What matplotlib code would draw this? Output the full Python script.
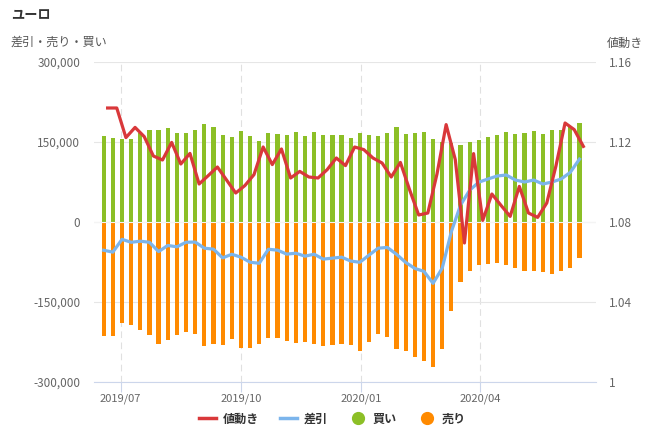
import matplotlib
matplotlib.use('Agg')
import matplotlib.pyplot as plt
import matplotlib.dates as mdates
from matplotlib.ticker import FuncFormatter, FixedLocator
from matplotlib.lines import Line2D
import numpy as np
import pandas as pd

plt.rcParams['font.family'] = ['Noto Sans CJK JP', 'DejaVu Sans']

# weekly report dates (Tuesdays)
report_dates = pd.date_range('2019-06-18', periods=53, freq='7D')

# 買い (long positions)
buy = np.array([
    161500, 158000, 156000, 156000, 166000, 173000, 173000, 176500, 166000, 167500,
    173000, 184000, 178500, 164000, 159500, 171000, 161500, 152000, 167000, 165300,
    163500, 169000, 161500, 169000, 163500, 163500, 163500, 158000, 167000, 163500,
    161500, 167000, 178500, 165300, 167000, 169000, 156000, 150600, 148000, 145000,
    150600, 154400, 160000, 163700, 169400, 165600, 167500, 171200, 165600, 173100,
    173100, 180000, 186000])

# 売り (short positions)
sell = np.array([
    -214500, -214500, -188500, -194000, -202000, -211000, -228500, -220500, -212500, -205500,
    -210600, -233100, -229400, -231250, -220000, -236900, -236900, -229400, -218100, -218100,
    -223750, -227500, -225600, -229400, -233100, -231250, -229400, -231250, -242500, -225600,
    -210600, -214700, -239000, -241000, -254000, -261500, -271000, -237200, -166000, -113400,
    -91000, -79700, -79400, -77500, -81250, -86900, -92500, -92500, -94400, -98100,
    -92500, -86900, -68100])

# 差引 (net position)
net = buy + sell

# 値動き (EUR/USD, Friday close)
price_dates = report_dates + pd.Timedelta(days=3)
price = np.array([
    1.1370, 1.1370, 1.1222, 1.1273, 1.1227, 1.1130, 1.1110, 1.1198, 1.1090, 1.1143,
    1.0990, 1.1032, 1.1075, 1.1010, 1.0945, 1.0982, 1.1037, 1.1175, 1.1087, 1.1165,
    1.1020, 1.1053, 1.1025, 1.1020, 1.1062, 1.1120, 1.1082, 1.1175, 1.1162, 1.1120,
    1.1095, 1.1025, 1.1098, 1.0962, 1.0835, 1.0845, 1.1040, 1.1287, 1.1112, 1.0695,
    1.1142, 1.0808, 1.0940, 1.0883, 1.0828, 1.0978, 1.0845, 1.0823, 1.0895, 1.1080,
    1.1295, 1.1262, 1.1178])

month_ticks = pd.to_datetime(['2019-07-01', '2019-10-01', '2020-01-01', '2020-04-01'])

c_buy = '#8cbf26'
c_sell = '#ff8a00'
c_net = '#7cb5ec'
c_price = '#d9383a'
c_label = '#666666'

fig = plt.figure(figsize=(6.63, 4.36), dpi=100)
ax = fig.add_axes([94 / 663, 1 - 382 / 436, 502 / 663, 320 / 436])
ax2 = ax.twinx()

ax.bar(report_dates, buy, width=3.2, color=c_buy, linewidth=0, zorder=2)
ax.bar(report_dates, sell, width=3.2, color=c_sell, linewidth=0, zorder=2)
ax.axhline(0, color='#f4f4f4', linewidth=0.8, zorder=2.5)
ax.plot(report_dates, net, color=c_net, linewidth=2.3, solid_joinstyle='round', zorder=3)
ax2.plot(price_dates, price, color=c_price, linewidth=2.3, solid_joinstyle='round', zorder=4)

ax.set_xlim(pd.Timestamp('2019-06-10 14:00'), pd.Timestamp('2020-06-28 16:00'))
ax.set_ylim(-300000, 300000)
ax2.set_ylim(1.0, 1.16)

ax.yaxis.set_major_locator(FixedLocator([-300000, -150000, 0, 150000, 300000]))
ax.yaxis.set_major_formatter(FuncFormatter(lambda v, p: f"{int(v):,}"))
ax2.yaxis.set_major_locator(FixedLocator([1.0, 1.04, 1.08, 1.12, 1.16]))
ax2.yaxis.set_major_formatter(FuncFormatter(lambda v, p: "1" if abs(v - 1) < 1e-9 else f"{v:.2f}"))

ax.xaxis.set_major_locator(FixedLocator(mdates.date2num(month_ticks)))
ax.xaxis.set_major_formatter(mdates.DateFormatter('%Y/%m'))

ax.grid(axis='y', color='#e6e6e6', linewidth=0.8, zorder=0)
ax.grid(axis='x', color='#e0e0e0', linewidth=0.8, linestyle=(0, (6, 4)), zorder=0)
ax.set_axisbelow(True)

for a in (ax, ax2):
    for s in ('top', 'left', 'right', 'bottom'):
        a.spines[s].set_visible(False)
ax.spines['bottom'].set_visible(True)
ax.spines['bottom'].set_color('#ccd6eb')

ax.tick_params(axis='y', length=0, pad=10, labelsize=8.5, labelcolor=c_label)
ax2.tick_params(axis='y', length=0, pad=9, labelsize=8.5, labelcolor=c_label)
ax.tick_params(axis='x', length=7, width=0.8, color='#ccd6eb', pad=1,
               labelsize=8, labelcolor=c_label)

fig.text(11 / 663, 1 - 15 / 436, 'ユーロ', fontsize=9.5, fontweight='bold',
         color='#333333', va='center', ha='left')
fig.text(11 / 663, 1 - 42 / 436, '差引・売り・買い', fontsize=8.7,
         color='#555555', va='center', ha='left')
fig.text(607 / 663, 1 - 43 / 436, '値動き', fontsize=8.7,
         color='#555555', va='center', ha='left')

handles = [
    Line2D([], [], color=c_price, linewidth=2.5),
    Line2D([], [], color=c_net, linewidth=2.5),
    Line2D([], [], linestyle='none', marker='o', markersize=8.5, color=c_buy),
    Line2D([], [], linestyle='none', marker='o', markersize=8.5, color=c_sell),
]
fig.legend(handles, ['値動き', '差引', '買い', '売り'], loc='center',
           bbox_to_anchor=(0.5015, 1 - 419 / 436), ncol=4, frameon=False,
           prop={'size': 8.7, 'weight': 'bold'}, labelcolor='#333333',
           handlelength=1.4, handletextpad=0.5, columnspacing=1.8)

fig.savefig('out.png', dpi=100)
